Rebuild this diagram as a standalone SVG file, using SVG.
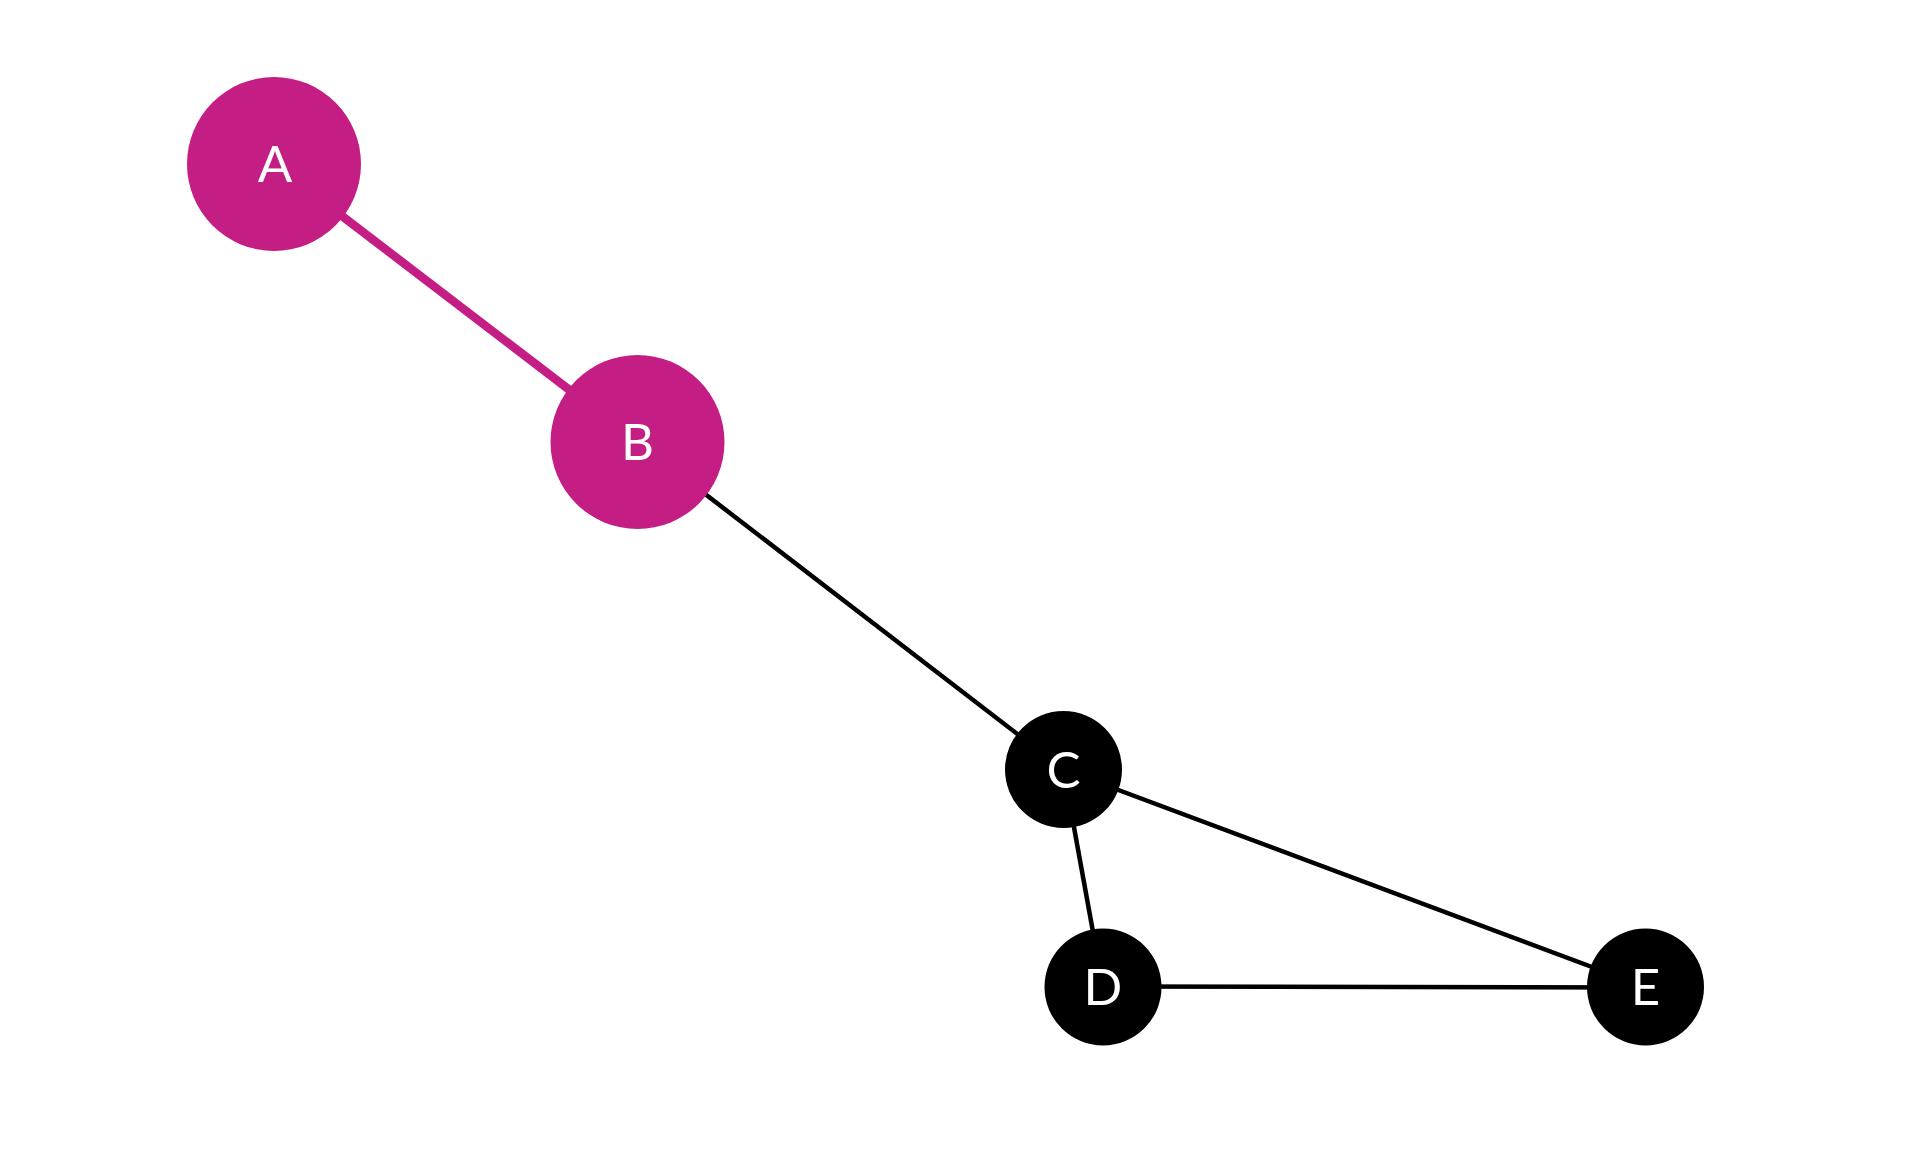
<svg xmlns="http://www.w3.org/2000/svg" width="1920" height="1152" viewBox="0 0 1920 1152">
<style>
.edge{stroke:#000;stroke-width:4.5;fill:none}
.edge.hl{stroke:#c41e84;stroke-width:8.5}
.node circle{fill:#000}
.node.hl circle{fill:#c41e84}
.node text{fill:#fff;font-family:Lato,"Liberation Sans",sans-serif;font-size:51px;text-anchor:middle}
</style>
<rect width="1920" height="1152" fill="#fff"/>
<g id="edges">
<line class="edge hl" x1="274" y1="164" x2="637.5" y2="442"/>
<line class="edge" x1="637.5" y1="442" x2="1063.5" y2="769.5"/>
<line class="edge" x1="1063.5" y1="769.5" x2="1103" y2="987"/>
<line class="edge" x1="1063.5" y1="769.5" x2="1645.5" y2="987"/>
<line class="edge" x1="1103" y1="986.5" x2="1645.5" y2="987.5"/>
</g>
<g id="node-A" class="node hl"><circle cx="274" cy="164" r="87"/><text x="275" y="182">A</text></g>
<g id="node-B" class="node hl"><circle cx="637.5" cy="442" r="87"/><text x="637.5" y="460">B</text></g>
<g id="node-C" class="node"><circle cx="1063.5" cy="769.5" r="58.5"/><text x="1063.5" y="787.5">C</text></g>
<g id="node-D" class="node"><circle cx="1103" cy="987" r="58.5"/><text x="1103" y="1005">D</text></g>
<g id="node-E" class="node"><circle cx="1645.5" cy="987" r="58.5"/><text x="1645.5" y="1005">E</text></g>
</svg>
